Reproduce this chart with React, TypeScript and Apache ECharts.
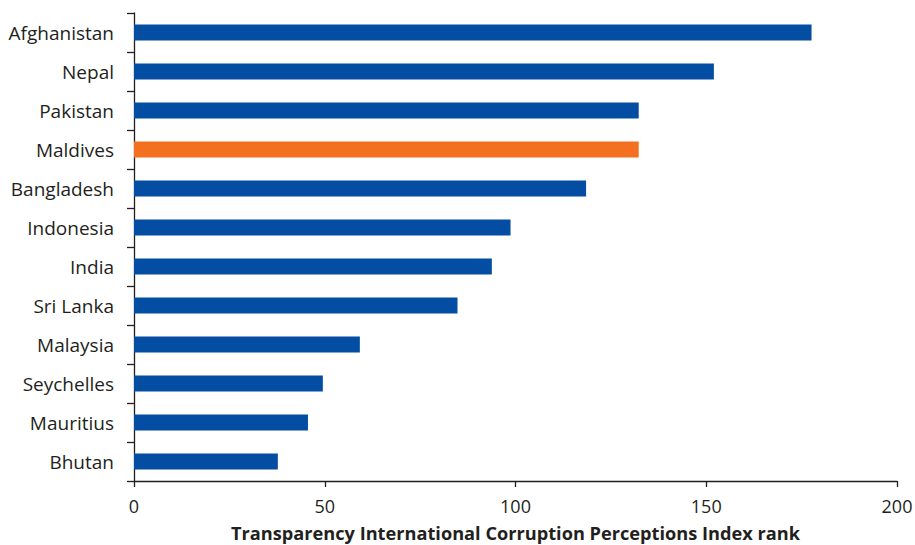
import React, { useEffect, useRef } from "react";
import * as echarts from "echarts";

const categories = [
  "Afghanistan",
  "Nepal",
  "Pakistan",
  "Maldives",
  "Bangladesh",
  "Indonesia",
  "India",
  "Sri Lanka",
  "Malaysia",
  "Seychelles",
  "Mauritius",
  "Bhutan",
];
const ranks = [177.6, 152, 132.3, 132.3, 118.5, 98.7, 93.8, 84.8, 59.2, 49.5, 45.6, 37.7];
const highlighted = "Maldives";
const axisTitle = "Transparency International Corruption Perceptions Index rank";

const BLUE = "#034ea2";
const ORANGE = "#f37021";
const INK = "#231f20";
const FONT = "'Open Sans', sans-serif";

export default function App() {
  const ref = useRef<HTMLDivElement>(null);
  useEffect(() => {
    if (!ref.current) return;
    const chart = echarts.init(ref.current, undefined, { renderer: "svg" });
    chart.setOption({
      animation: false,
      backgroundColor: "#ffffff",
      grid: {
        left: 134,
        right: 18,
        top: 13,
        bottom: 64,
        containLabel: false,
        outerBoundsMode: "none",
      },
      xAxis: {
        type: "value",
        min: 0,
        max: 200,
        interval: 50,
        splitLine: { show: false },
        axisLine: { show: true, lineStyle: { color: INK, width: 1.3 } },
        axisTick: { show: true, length: 6, lineStyle: { color: INK, width: 1.3 } },
        axisLabel: { color: INK, fontFamily: FONT, fontSize: 18, margin: 16 },
        name: axisTitle,
        nameLocation: "middle",
        nameGap: 43,
        nameTextStyle: { color: INK, fontFamily: FONT, fontSize: 18.2, fontWeight: "bold" },
      },
      yAxis: {
        type: "category",
        inverse: true,
        data: categories,
        axisLine: { show: true, lineStyle: { color: INK, width: 1.3 } },
        axisTick: { show: true, length: 7, lineStyle: { color: INK, width: 1.3 } },
        axisLabel: { color: INK, fontFamily: FONT, fontSize: 19, margin: 20 },
      },
      series: [
        {
          type: "bar",
          barWidth: 16,
          data: ranks.map((v, i) => ({
            value: v,
            itemStyle: { color: categories[i] === highlighted ? ORANGE : BLUE },
          })),
        },
      ],
    });
    return () => chart.dispose();
  }, []);
  return (
    <div
      ref={ref}
      style={{ position: "fixed", left: 0, top: 0, width: 915, height: 545, background: "#fff" }}
    />
  );
}
